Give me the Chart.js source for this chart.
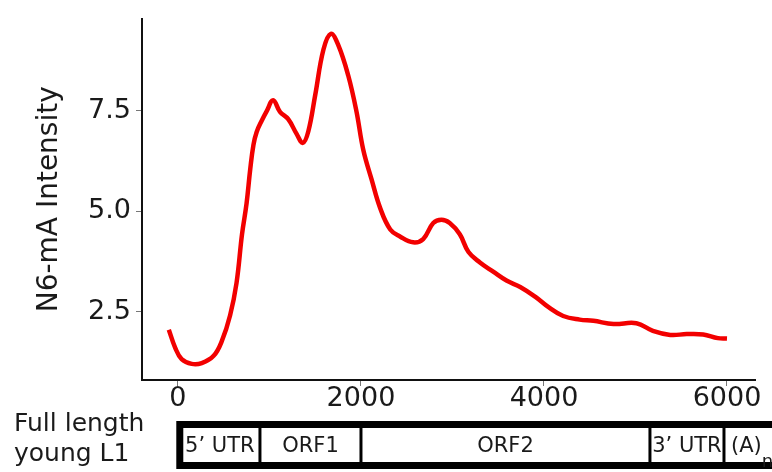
<!DOCTYPE html>
<html><head><meta charset="utf-8">
<script src="https://cdn.jsdelivr.net/npm/chart.js@4/dist/chart.umd.min.js"></script>
<style>html,body{margin:0;padding:0;background:#fff}#wrap{width:772px;height:472px}</style>
</head><body><div id="wrap"><canvas id="c" width="772" height="472"></canvas></div>
<script>
// ---- data ----
const positions = [-100, -30, 40, 150, 260, 390, 480, 570, 640, 700, 750, 790, 825, 860, 915, 970, 1040, 1115, 1205, 1295, 1365, 1425, 1500, 1590, 1670, 1750, 1860, 1950, 2025, 2115, 2210, 2320, 2430, 2570, 2680, 2790, 2880, 2970, 3080, 3175, 3300, 3445, 3590, 3740, 3910, 4050, 4210, 4390, 4540, 4760, 5010, 5190, 5380, 5560, 5740, 5900, 6000];
const intensity = [2.06, 1.61, 1.33, 1.21, 1.23, 1.41, 1.78, 2.42, 3.22, 4.43, 5.20, 6.05, 6.65, 6.97, 7.25, 7.49, 7.76, 7.47, 7.29, 6.93, 6.70, 6.99, 7.89, 9.02, 9.41, 9.14, 8.38, 7.49, 6.53, 5.80, 5.08, 4.55, 4.37, 4.23, 4.31, 4.71, 4.79, 4.71, 4.43, 3.99, 3.73, 3.50, 3.28, 3.12, 2.87, 2.62, 2.40, 2.31, 2.28, 2.20, 2.22, 2.03, 1.93, 1.95, 1.94, 1.85, 1.84];
const xTickValues = [0, 2000, 4000, 6000];
const yTickValues = [2.5, 5.0, 7.5];
const segmentStarts = [20, 896, 2000, 5158, 5967];
const segmentEnds   = [896, 2000, 5158, 5967, 6900];
const segmentLabels = ['5\u2019 UTR', 'ORF1', 'ORF2', '3\u2019 UTR', '(A)'];
const trackLabel = ['Full length', 'young L1'];
const yTitle = 'N6-mA Intensity';

const FONT = "'DejaVu Sans', Verdana, sans-serif";
const INK = '#1a1a1a';

const geneTrack = {
  id: 'geneTrack',
  afterDraw(chart) {
    const ctx = chart.ctx, xs = chart.scales.x;
    ctx.save();
    ctx.fillStyle = INK;
    ctx.font = '25px ' + FONT;
    ctx.textAlign = 'left';
    ctx.textBaseline = 'alphabetic';
    ctx.fillText(trackLabel[0], 14, 431);
    ctx.fillText(trackLabel[1], 14, 461);
    const left = xs.getPixelForValue(segmentStarts[0]);
    const right = xs.getPixelForValue(segmentEnds[segmentEnds.length - 1]);
    ctx.strokeStyle = '#000';
    ctx.lineWidth = 7;
    ctx.strokeRect(left, 424.5, right - left, 41);
    ctx.lineWidth = 3;
    for (let i = 1; i < segmentStarts.length; i++) {
      const px = xs.getPixelForValue(segmentStarts[i]);
      ctx.beginPath(); ctx.moveTo(px, 427); ctx.lineTo(px, 462); ctx.stroke();
    }
    ctx.font = '21px ' + FONT;
    for (let i = 0; i < segmentLabels.length; i++) {
      const a = xs.getPixelForValue(segmentStarts[i]);
      const b = xs.getPixelForValue(segmentEnds[i]);
      if (i === segmentLabels.length - 1) {
        ctx.textAlign = 'left';
        ctx.fillText(segmentLabels[i], a + 7, 452);
        const w = ctx.measureText(segmentLabels[i]).width;
        ctx.font = '18px ' + FONT;
        ctx.fillText('n', a + 7 + w, 467);
        ctx.font = '21px ' + FONT;
      } else {
        ctx.textAlign = 'center';
        ctx.fillText(segmentLabels[i], (a + b) / 2, 452);
      }
    }
    ctx.restore();
  }
};

new Chart(document.getElementById('c'), {
  type: 'line',
  data: {
    datasets: [{
      data: positions.map((x, i) => ({ x: x, y: intensity[i] })),
      borderColor: '#f20000',
      borderWidth: 4.5,
      pointRadius: 0,
      fill: false,
      tension: 0.4
    }]
  },
  options: {
    responsive: false,
    devicePixelRatio: 1,
    animation: false,
    layout: { padding: { left: 0, right: 17, top: 8, bottom: 0 } },
    plugins: { legend: { display: false }, tooltip: { enabled: false } },
    scales: {
      x: {
        type: 'linear', min: -393, max: 6306,
        afterBuildTicks: s => { s.ticks = xTickValues.map(v => ({ value: v })); },
        afterFit: s => { s.height = 92; },
        grid: { drawOnChartArea: false, drawTicks: true, tickLength: 6, color: '#777', lineWidth: 1 },
        border: { display: true, color: '#111', width: 2 },
        ticks: { autoSkip: false, maxRotation: 0, padding: -1, color: INK,
          font: { family: FONT, size: 27, lineHeight: 1 }, callback: v => String(v) }
      },
      y: {
        type: 'linear', min: 0.81, max: 9.79,
        afterBuildTicks: s => { s.ticks = yTickValues.map(v => ({ value: v })); },
        afterFit: s => { s.width = 142; },
        grid: { drawOnChartArea: false, drawTicks: true, tickLength: 6, color: '#777', lineWidth: 1 },
        border: { display: true, color: '#111', width: 2 },
        ticks: { padding: 5, color: INK, font: { family: FONT, size: 27, lineHeight: 1 },
          callback: v => Number(v).toFixed(1) },
        title: { display: true, text: yTitle, color: INK,
          font: { family: FONT, size: 28, lineHeight: 1 }, padding: { top: 36, bottom: 0 } }
      }
    }
  },
  plugins: [geneTrack]
});
</script></body></html>
